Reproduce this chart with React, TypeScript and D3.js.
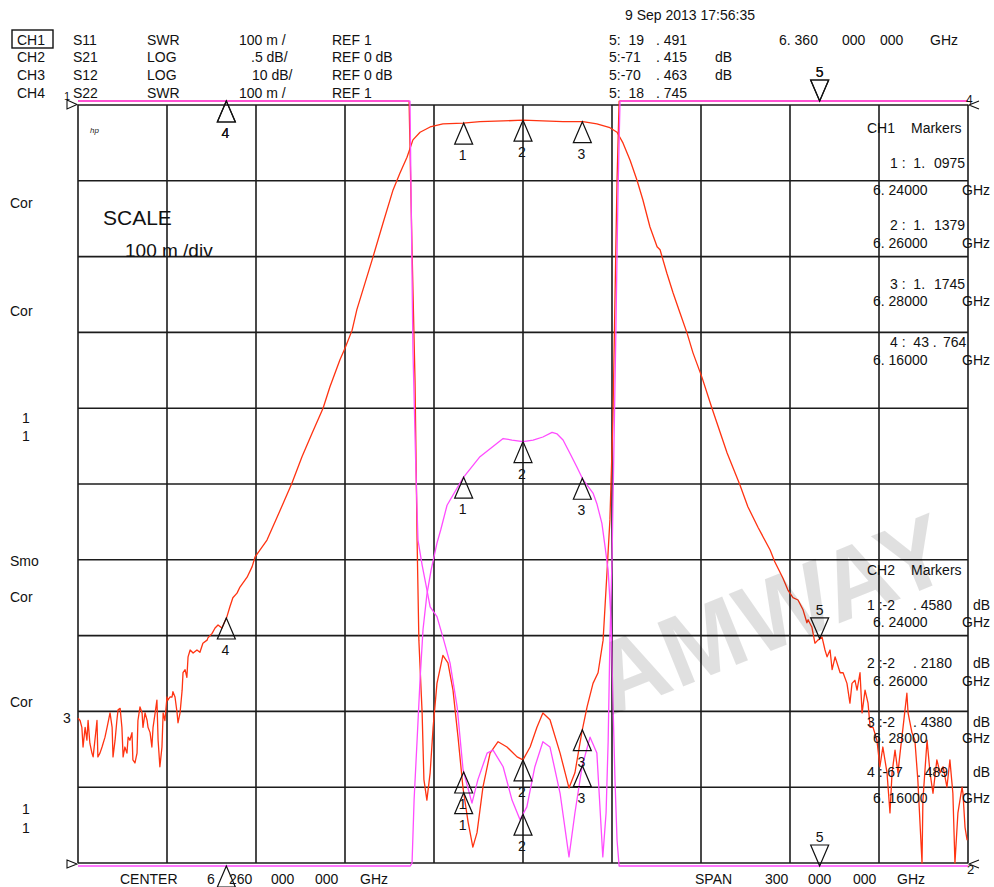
import React from "react";
import * as d3 from "d3";

// Sweep: CENTER 6.260 GHz, SPAN 300 MHz (values in MHz)
const START_MHZ = 6110;
const STOP_MHZ = 6410;
const DIVS = 10;

// CH3 S12 LOG 10 dB/div, REF 0 dB (top)  [MHz, dB]
const s12Trace: [number, number][] = [
  [6110.0,-80.9],[6110.7,-81.2],[6111.3,-82.1],[6111.7,-84.7],[6112.4,-82.1],[6113.0,-83.8],[6113.4,-81.2],[6114.0,-84.2],[6114.7,-85.5],[6115.1,-86.0],
  [6115.7,-83.8],[6116.4,-81.2],[6116.7,-86.0],[6117.4,-85.5],[6118.1,-84.7],[6119.1,-83.4],[6119.8,-82.1],[6120.8,-80.2],[6121.5,-82.1],[6121.8,-86.0],
  [6122.5,-83.8],[6123.1,-81.2],[6123.5,-79.8],[6124.2,-79.6],[6124.8,-82.1],[6125.2,-86.0],[6125.8,-84.7],[6126.5,-85.5],[6126.9,-83.4],[6127.5,-83.8],
  [6128.2,-82.8],[6128.5,-86.4],[6129.2,-86.8],[6129.9,-85.5],[6130.2,-81.2],[6130.9,-79.4],[6131.6,-80.2],[6131.9,-82.1],[6132.6,-80.2],[6133.3,-81.2],
  [6133.6,-82.1],[6134.3,-82.8],[6134.9,-84.7],[6135.3,-82.1],[6136.0,-80.2],[6136.6,-78.5],[6137.0,-83.8],[6137.6,-87.3],[6138.3,-84.7],[6138.7,-80.2],
  [6139.3,-81.2],[6140.0,-78.1],[6140.3,-78.5],[6141.0,-78.1],[6141.7,-78.1],[6142.0,-77.4],[6142.7,-78.1],[6143.4,-80.2],[6143.7,-81.5],[6144.4,-80.2],
  [6145.1,-77.2],[6145.4,-74.9],[6146.1,-74.5],[6146.7,-75.5],[6147.1,-72.8],[6147.8,-71.9],[6148.8,-72.3],[6150.1,-71.9],[6151.1,-72.2],[6152.1,-71.0],
  [6153.5,-70.6],[6153.8,-70.3],[6155.2,-69.7],[6156.2,-69.0],[6157.2,-68.6],[6158.5,-69.0],[6160.2,-67.5],[6161.2,-66.2],[6162.2,-65.0],[6163.6,-64.4],
  [6164.6,-63.6],[6167.0,-62.3],[6168.7,-60.9],[6169.7,-59.6],[6173.7,-57.4],[6177.1,-54.4],[6182.1,-49.9],[6185.5,-46.4],[6188.9,-43.3],[6192.6,-40.0],
  [6194.9,-37.2],[6198.3,-33.6],[6200.0,-32.1],[6202.4,-29.7],[6204.0,-27.0],[6209.4,-20.1],[6212.8,-15.6],[6216.2,-11.2],[6218.5,-9.0],[6220.9,-6.9],
  [6222.9,-4.6],[6225.3,-3.6],[6228.7,-2.9],[6233.0,-2.5],[6239.8,-2.4],[6245.5,-2.2],[6253.3,-2.1],[6260.0,-2.0],[6266.7,-2.1],[6273.5,-2.2],
  [6280.2,-2.2],[6284.9,-2.5],[6289.3,-3.0],[6291.7,-3.6],[6293.7,-5.0],[6296.1,-7.3],[6298.4,-9.9],[6300.4,-12.5],[6302.8,-16.1],[6305.2,-18.7],
  [6306.2,-19.1],[6308.5,-22.2],[6310.6,-24.8],[6312.9,-27.4],[6315.3,-30.1],[6317.3,-32.7],[6320.3,-35.9],[6323.7,-40.0],[6328.8,-45.9],[6333.1,-50.1],
  [6335.8,-53.0],[6339.2,-55.7],[6343.3,-58.7],[6344.9,-60.3],[6347.6,-62.4],[6349.3,-64.0],[6351.0,-65.0],[6352.7,-65.3],[6354.4,-66.6],[6355.7,-68.3],
  [6356.1,-67.9],[6357.4,-68.9],[6358.4,-71.0],[6359.4,-70.6],[6360.8,-70.2],[6361.8,-71.9],[6362.5,-72.8],[6363.5,-71.9],[6364.2,-74.5],[6365.2,-72.8],
  [6366.9,-74.9],[6367.9,-74.9],[6369.2,-76.3],[6370.2,-78.9],[6370.9,-76.3],[6371.9,-75.9],[6372.6,-77.2],[6373.6,-74.9],[6374.3,-80.2],[6375.3,-77.2],
  [6376.3,-78.9],[6377.0,-82.1],[6378.0,-82.1],[6379.3,-83.8],[6380.3,-87.3],[6381.3,-84.7],[6382.7,-88.1],[6383.7,-93.4],[6384.4,-88.1],[6385.4,-85.1],
  [6386.4,-88.1],[6387.1,-85.5],[6388.1,-82.1],[6389.4,-77.6],[6389.8,-80.2],[6391.1,-82.8],[6392.1,-83.8],[6393.1,-89.1],[6394.5,-100.0],[6394.8,-91.7],
  [6396.2,-83.8],[6397.2,-88.1],[6398.2,-90.8],[6399.5,-86.4],[6400.6,-88.1],[6401.6,-87.3],[6402.9,-90.0],[6403.9,-86.4],[6404.9,-90.8],[6405.6,-100.0],
  [6406.6,-93.4],[6408.0,-90.0],[6408.3,-90.8],[6409.0,-95.3],[6409.7,-97.0],
];

// CH2 S21 LOG 0.5 dB/div, REF 0 dB (top)  [MHz, dB]
const s21Trace: [number, number][] = [
  [6110,-70],[6160,-67.5],[6222.0,-5.6],[6222.6,-5.0],[6223.3,-4.58],[6224.3,-4.19],[6225.3,-3.79],[6226.3,-3.46],[6227.6,-3.23],[6229.0,-3.07],
  [6231.0,-2.89],[6232.3,-2.80],[6234.4,-2.64],[6239.8,-2.46],[6245.5,-2.32],[6253.3,-2.20],[6256.3,-2.21],[6260.0,-2.22],[6263.4,-2.21],[6266.7,-2.19],
  [6269.8,-2.16],[6271.5,-2.17],[6273.5,-2.21],[6275.9,-2.30],[6278.2,-2.39],[6280.2,-2.47],[6283.6,-2.56],[6284.9,-2.63],[6286.6,-2.76],[6287.7,-2.92],
  [6288.7,-3.07],[6289.7,-3.40],[6290.3,-3.92],[6291.0,-4.45],[6291.7,-4.85],[6292.4,-5.1],[6293.0,-6.0],[6360,-71.4],[6410,-72],
];

// CH1 S11 SWR 100 m/div, REF 1 (bottom)  [MHz, SWR]
const s11Trace: [number, number][] = [
  [6110,20],[6160,43.8],[6221.0,12],[6221.6,2.005],[6222.6,1.809],[6223.6,1.637],[6224.3,1.426],[6224.9,1.294],[6226.0,1.198],[6226.6,1.110],
  [6227.6,1.083],[6228.7,1.119],[6229.7,1.179],[6231.0,1.237],[6233.0,1.274],[6234.7,1.264],[6236.4,1.228],[6238.1,1.166],[6239.8,1.098],[6241.5,1.054],
  [6243.1,1.021],[6244.5,1.040],[6246.5,1.100],[6248.9,1.145],[6251.6,1.160],[6254.6,1.153],[6258.0,1.140],[6260.0,1.136],[6262.4,1.153],[6264.7,1.179],
  [6266.7,1.198],[6269.1,1.189],[6272.5,1.145],[6275.5,1.099],[6277.5,1.119],[6279.9,1.174],[6281.6,1.206],[6283.6,1.237],[6285.3,1.251],[6287.0,1.294],
  [6288.3,1.383],[6289.3,1.453],[6290.3,1.584],[6291.0,1.743],[6291.7,1.901],[6292.4,2.005],[6293.0,10],[6360,19.491],[6410,20],
];

// CH4 S22 SWR 100 m/div, REF 1 (bottom)  [MHz, SWR]
const s22Trace: [number, number][] = [
  [6110,20],[6160,44],[6221.0,12],[6221.9,2.005],[6222.9,1.677],[6223.9,1.518],[6224.6,1.426],[6226.0,1.393],[6227.0,1.373],[6228.7,1.338],
  [6231.0,1.325],[6233.0,1.298],[6235.4,1.264],[6237.8,1.206],[6239.8,1.123],[6242.8,1.079],[6244.8,1.110],[6247.9,1.145],[6249.9,1.149],[6253.3,1.127],
  [6256.3,1.083],[6259.0,1.057],[6261.3,1.074],[6264.0,1.127],[6266.7,1.160],[6269.1,1.153],[6272.5,1.092],[6275.5,1.008],[6277.5,1.066],[6279.9,1.127],
  [6282.6,1.166],[6284.9,1.145],[6286.9,1.008],[6288.0,1.066],[6288.7,1.160],[6289.3,1.294],[6290.0,1.400],[6290.7,1.560],[6291.3,1.700],[6292.0,1.880],
  [6292.7,2.005],[6293.5,10],[6360,18.745],[6410,20],
];

// Marker frequencies (MHz) and labels
const markerFreqs = [6240, 6260, 6280, 6160, 6360];
const markerLabels = ["1", "2", "3", "4", "5"];

// Header / readout text
const headerChannels = ["CH1", "CH2", "CH3", "CH4"];
const headerParams = ["S11", "S21", "S12", "S22"];
const headerFormats = ["SWR", "LOG", "LOG", "SWR"];
const headerScales = ["100 m /", ".5 dB/", "10 dB/", "100 m /"];
const headerRefs = ["REF 1", "REF 0 dB", "REF 0 dB", "REF 1"];
const marker5Int = ["5:  19", "5:-71", "5:-70", "5:  18"];
const marker5Frac = [". 491", ". 415", ". 463", ". 745"];
const marker5Unit = ["", "dB", "dB", ""];
const ch1MarkerInt = ["1 :  1.", "2 :  1.", "3 :  1.", "4 :  43 ."];
const ch1MarkerFrac = ["0975", "1379", "1745", "764"];
const ch2MarkerInt = ["1 :-2", "2 :-2", "3 :-2", "4 :-67"];
const ch2MarkerFrac = [". 4580", ". 2180", ". 4380", ". 489"];
const markerFreqText = ["6. 24000", "6. 26000", "6. 28000", "6. 16000"];

const RED = "#ff3311";
const MAG = "#ff4cff";
const FONT = "'Liberation Sans', Arial, sans-serif";

const L = 78, R = 968, T = 105, B = 863;
const H = 887;

export default function App() {
  const x = d3.scaleLinear().domain([START_MHZ, STOP_MHZ]).range([L, R]);
  const ySwr = d3.scaleLinear().domain([1, 2]).range([B, T]);
  const yS21 = d3.scaleLinear().domain([-5, 0]).range([B, T]);
  const yS12 = d3.scaleLinear().domain([-100, 0]).range([B, T]);
  const divX = d3.scaleLinear().domain([0, DIVS]).range([L, R]);
  const divY = d3.scaleLinear().domain([0, DIVS]).range([T, B]);
  const clampY = (v: number) => Math.max(101, Math.min(866, v));

  const lineFor = (ys: d3.ScaleLinear<number, number>) =>
    d3.line<[number, number]>().x((d) => x(d[0])).y((d) => clampY(ys(d[1])));

  const bis = d3.bisector((d: [number, number]) => d[0]).left;
  const valueAt = (tr: [number, number][], f: number) => {
    const i = Math.max(1, Math.min(tr.length - 1, bis(tr, f)));
    const a = tr[i - 1], b = tr[i];
    const t = (f - a[0]) / (b[0] - a[0]);
    return a[1] + (b[1] - a[1]) * t;
  };

  const channels = [
    { tr: s11Trace, ys: ySwr, color: RED },
    { tr: s12Trace, ys: yS12, color: RED },
    { tr: s21Trace, ys: yS21, color: MAG },
    { tr: s22Trace, ys: ySwr, color: MAG },
  ];

  const markers: { mx: number; my: number; label: string; down: boolean }[] = [];
  channels.forEach((c) => {
    markerFreqs.forEach((f, i) => {
      markers.push({
        mx: x(f),
        my: clampY(c.ys(valueAt(c.tr, f))),
        label: markerLabels[i],
        down: i === 4,
      });
    });
  });

  const txt = (key: string, tx: number, ty: number, s: string, size = 14, extra: any = {}) => (
    <text key={key} x={tx} y={ty} fontSize={size} fontFamily={FONT} fill="#111" style={{ whiteSpace: "pre" }} {...extra}>
      {s}
    </text>
  );

  const rowY = [45, 62, 80, 98];
  const ch1Y = [168, 230, 289, 347];
  const ch1FY = [195, 248, 306, 365];
  const ch2Y = [610, 668, 727, 777];
  const ch2FY = [627, 686, 743, 803];
  const footY = 884;

  return (
    <svg width={994} height={H} style={{ position: "absolute", left: 0, top: 0, background: "#fff" }}>
      <rect x={0} y={0} width={994} height={H} fill="#fff" />

      {/* grid */}
      {d3.range(DIVS + 1).map((i) => (
        <line key={"gx" + i} x1={divX(i)} x2={divX(i)} y1={T} y2={B} stroke="#1c1c1c" strokeWidth={1.6} />
      ))}
      {d3.range(DIVS + 1).map((i) => (
        <line key={"gy" + i} x1={L} x2={R} y1={divY(i)} y2={divY(i)} stroke="#1c1c1c" strokeWidth={1.6} />
      ))}

      {/* traces */}
      {channels.map((c, i) => (
        <path key={"tr" + i} d={lineFor(c.ys)(c.tr) || ""} fill="none" stroke={c.color} strokeWidth={1.3} strokeLinejoin="round" />
      ))}

      {/* markers */}
      {markers.map((m, i) =>
        m.down ? (
          <g key={"m" + i}>
            <path d={`M${m.mx},${m.my} L${m.mx - 9},${m.my - 21} L${m.mx + 9},${m.my - 21} Z`} fill="none" stroke="#111" strokeWidth={1.2} />
            <text x={m.mx} y={m.my - 24} fontSize={14} fontFamily={FONT} textAnchor="middle" fill="#111">{m.label}</text>
          </g>
        ) : (
          <g key={"m" + i}>
            <path d={`M${m.mx},${m.my} L${m.mx - 9},${m.my + 21} L${m.mx + 9},${m.my + 21} Z`} fill="none" stroke="#111" strokeWidth={1.2} />
            {m.my + 37 < H ? (
              <text x={m.mx - 1} y={m.my + 37} fontSize={14} fontFamily={FONT} textAnchor="middle" fill="#111">{m.label}</text>
            ) : null}
          </g>
        )
      )}

      {/* reference position indicators */}
      <path d="M67,100 L77,104.5 L67,109 Z" fill="none" stroke="#111" strokeWidth={1.1} />
      {txt("r1", 64, 100, "1", 11)}
      <path d="M67,860 L77,864 L67,868 Z" fill="none" stroke="#111" strokeWidth={1.1} />
      <path d="M979,101 L969,105 L979,109" fill="none" stroke="#111" strokeWidth={1.1} />
      {txt("r4", 966, 104, "4", 12)}
      <path d="M979,860 L969,864 L979,868" fill="none" stroke="#111" strokeWidth={1.1} />
      {txt("r2", 967, 874, "2", 13)}
      {txt("r3", 63, 723, "3")}

      {/* header */}
      <text x={625} y={20} fontSize={14} fontFamily={FONT} fill="#111">9 Sep 2013  17:56:35</text>
      <rect x={12} y={30} width={41} height={18} fill="none" stroke="#111" strokeWidth={1.4} />
      {headerChannels.map((c, i) => (
        <g key={"h" + i}>
          {txt("hc" + i, 17, rowY[i], c)}
          {txt("hp" + i, 73, rowY[i], headerParams[i])}
          {txt("hf" + i, 147, rowY[i], headerFormats[i])}
          {txt("hs" + i, i === 1 ? 251 : i === 2 ? 252 : 239, rowY[i], headerScales[i])}
          {txt("hr" + i, 332, rowY[i], headerRefs[i])}
          {txt("m5a" + i, 609, rowY[i], marker5Int[i])}
          {txt("m5b" + i, 656, rowY[i], marker5Frac[i])}
          {txt("m5c" + i, 715, rowY[i], marker5Unit[i])}
        </g>
      ))}
      {txt("f1", 779, 45, "6. 360")}
      {txt("f2", 842, 45, "000")}
      {txt("f3", 880, 45, "000")}
      {txt("f4", 930, 45, "GHz")}

      {/* left annotations */}
      {txt("l1", 10, 208, "Cor")}
      {txt("l2", 10, 316, "Cor")}
      {txt("l3", 22, 423, "1")}
      {txt("l4", 22, 441, "1")}
      {txt("l5", 10, 566, "Smo")}
      {txt("l6", 10, 602, "Cor")}
      {txt("l7", 10, 707, "Cor")}
      {txt("l8", 22, 814, "1")}
      {txt("l9", 22, 833, "1")}
      <text x={90} y={133} fontSize={8} fontStyle="italic" fontFamily={FONT} fill="#222">hp</text>
      {txt("sc1", 103, 225, "SCALE", 21)}
      {txt("sc2", 125, 257, "100 m /div", 19)}

      {/* CH1 marker list */}
      {txt("c1h", 867, 133, "CH1")}
      {txt("c1m", 911, 133, "Markers")}
      {ch1MarkerInt.map((s, i) => (
        <g key={"c1" + i}>
          {txt("c1a" + i, 890, ch1Y[i], s)}
          {txt("c1b" + i, i === 3 ? 943 : 934, ch1Y[i], ch1MarkerFrac[i])}
          {txt("c1c" + i, 873, ch1FY[i], markerFreqText[i])}
          {txt("c1d" + i, 962, ch1FY[i], "GHz")}
        </g>
      ))}

      {/* CH2 marker list */}
      {txt("c2h", 867, 575, "CH2")}
      {txt("c2m", 911, 575, "Markers")}
      {ch2MarkerInt.map((s, i) => (
        <g key={"c2" + i}>
          {txt("c2a" + i, 867, ch2Y[i], s)}
          {txt("c2b" + i, i === 3 ? 917 : 913, ch2Y[i], ch2MarkerFrac[i])}
          {txt("c2u" + i, 973, ch2Y[i], "dB")}
          {txt("c2c" + i, 873, ch2FY[i], markerFreqText[i])}
          {txt("c2d" + i, 962, ch2FY[i], "GHz")}
        </g>
      ))}

      {/* footer */}
      {txt("b1", 120, footY, "CENTER")}
      {txt("b2", 207, footY, "6")}
      {txt("b3", 229, footY, "260")}
      {txt("b4", 271, footY, "000")}
      {txt("b5", 315, footY, "000")}
      {txt("b6", 360, footY, "GHz")}
      {txt("b7", 695, footY, "SPAN")}
      {txt("b8", 765, footY, "300")}
      {txt("b9", 808, footY, "000")}
      {txt("b10", 853, footY, "000")}
      {txt("b11", 897, footY, "GHz")}

      {/* watermark */}
      <text x={0} y={0} transform="translate(610,716) rotate(-22)" fontSize={100} fontWeight="bold" fontFamily={FONT} fill="#000" fillOpacity={0.12}>
        AMWAY
      </text>
    </svg>
  );
}
